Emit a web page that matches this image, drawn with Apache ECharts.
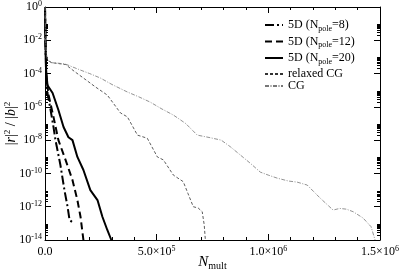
<!DOCTYPE html>
<html><head><meta charset="utf-8">
<script src="https://cdn.jsdelivr.net/npm/echarts@6/dist/echarts.min.js"></script>
<style>html,body{margin:0;padding:0;background:#fff}#c{width:399px;height:276px}</style>
</head><body><div id="c"></div>
<script>
// ---- data ----
const names = ['5D (N_pole=8)', '5D (N_pole=12)', '5D (N_pole=20)', 'relaxed CG', 'CG'];

const n8_x = [0, 2000, 5000, 11000, 25000, 38000, 47000, 69000, 87000, 101000, 110000, 118000, 127000];
const n8_y = [1, 1e-2, 6.3e-5, 6.8e-6, 6.5e-7, 6.2e-8, 1.0e-8, 3.2e-10, 1e-11, 1e-12, 1.6e-13, 1.4e-13, 1.05e-13];

const n12_x = [0, 2000, 6000, 16000, 38000, 60000, 92000, 123000, 145000, 159000, 172000];
const n12_y = [1, 1e-2, 6.3e-5, 5.1e-6, 2.5e-7, 1.0e-8, 6.5e-10, 4.0e-11, 2.5e-12, 2.5e-13, 1e-14];

const n20_x = [0, 2000, 5000, 11000, 34000, 60000, 83000, 105000, 123000, 145000, 172000, 203000, 235000, 257000, 279000, 297000];
const n20_y = [1, 1e-2, 1.6e-4, 2.0e-5, 6.8e-6, 6.5e-7, 6.2e-8, 1.5e-8, 1.0e-8, 9.8e-10, 1.6e-10, 1e-11, 2.5e-12, 2.5e-13, 4.0e-14, 1e-14];

const rcg_x = [0, 1500, 3000, 6000, 12000, 30000, 60000, 92000, 130000, 172000, 225000, 279000, 338000, 369000, 414000, 458000, 503000, 530000, 575000, 619000, 640000, 664000, 686000, 704000, 713000, 718000];
const rcg_y = [1, 1e-1, 1e-2, 1.6e-3, 6.3e-4, 4.5e-4, 4e-4, 3.5e-4, 1.4e-4, 5.4e-5, 1.6e-5, 5.1e-6, 4.3e-7, 2.5e-7, 2.0e-8, 1.3e-8, 9.8e-10, 6.5e-10, 7.9e-11, 3.2e-11, 6.3e-12, 1e-12, 8.3e-13, 5e-13, 7.9e-14, 1e-14];

const cg_x = [0, 1500, 3000, 6000, 12000, 30000, 60000, 92000, 150000, 200000, 248000, 300000, 369000, 420000, 472000, 520000, 575000, 630000, 682000, 740000, 789000, 830000, 874000, 920000, 964000, 1000000, 1040000, 1090000, 1129000, 1174000, 1232000, 1290000, 1320000, 1350000, 1380000, 1424000, 1460000, 1478000];
const cg_y = [1, 1e-1, 1e-2, 1.6e-3, 6.3e-4, 4.5e-4, 4.2e-4, 3.7e-4, 1.8e-4, 1e-4, 5.4e-5, 2.2e-5, 7.8e-6, 4.0e-6, 1.9e-6, 7.9e-7, 3.2e-7, 1.0e-7, 2.0e-8, 1.4e-8, 1.0e-8, 4.0e-9, 1.3e-9, 4.0e-10, 1.2e-10, 7.9e-11, 5.2e-11, 3.5e-11, 3.0e-11, 2.0e-11, 3.3e-12, 6.3e-13, 7.9e-13, 7.1e-13, 5.0e-13, 2.1e-13, 6.3e-14, 1e-14];

const xTicks = [0, 500000, 1000000, 1500000];
const xTickLabels = ['0.0', '5.0×10|5', '1.0×10|6', '1.5×10|6'];
const yTicks = [1, 1e-2, 1e-4, 1e-6, 1e-8, 1e-10, 1e-12, 1e-14];
const yTickLabels = ['10|0', '10|-2', '10|-4', '10|-6', '10|-8', '10|-10', '10|-12', '10|-14'];

// ---- build ----
const zip = (xs, ys) => xs.map((x, i) => [x, ys[i]]);
const FONT = 'Liberation Serif';
const yMinor = [];
for (let e = -14; e < 0; e += 2) for (let k = 2; k <= 9; k++) yMinor.push(k * Math.pow(10, e));

function supFmt(s) {
  const p = s.split('|');
  return '{b|' + p[0] + '}{s|' + p[1] + '}';
}
const labRich = {
  b: {fontFamily: FONT, fontSize: 12, color: '#000', lineHeight: 14},
  s: {fontFamily: FONT, fontSize: 8, color: '#000', lineHeight: 8, verticalAlign: 'top'}
};

const chart = echarts.init(document.getElementById('c'), null, {renderer: 'canvas'});

const baseY = {type: 'log', logBase: 10, min: 1e-14, max: 1, splitLine: {show: false}};
const baseX = {type: 'value', min: 0, max: 1500000, interval: 500000, splitLine: {show: false}};
const axisLine = {show: true, lineStyle: {color: '#000', width: 1}};

function mkSeries(name, xs, ys, type, width, color) {
  return {
    name: name, type: 'line', xAxisIndex: 0, yAxisIndex: 0,
    data: zip(xs, ys), showSymbol: false, symbol: 'none', clip: true,
    lineStyle: {color: color, width: width, type: type},
    itemStyle: {color: color}
  };
}

function legendFmt(name) {
  const m = name.match(/^5D \(N_pole=(\d+)\)$/);
  if (m) return '{a|5D (N}{s|pole}{a|=' + m[1] + ')}';
  return '{a|' + name + '}';
}
const legRich = {
  a: {fontFamily: FONT, fontSize: 12, color: '#000', lineHeight: 15},
  s: {fontFamily: FONT, fontSize: 8, color: '#000', lineHeight: 8, verticalAlign: 'bottom'}
};
const legCommon = {orient: 'vertical', left: 264, padding: 0, itemWidth: 18, itemHeight: 8,
  itemStyle: {opacity: 0, borderWidth: 0}, formatter: legendFmt, textStyle: {rich: legRich}, selectedMode: false};

const option = {
  animation: false,
  backgroundColor: '#fff',
  grid: {left: 45, right: 19, top: 7, bottom: 36, containLabel: false, outerBoundsMode: 'none'},
  legend: [
    Object.assign({}, legCommon, {data: names.slice(0, 3), top: 19, itemGap: 3}),
    Object.assign({}, legCommon, {data: names.slice(3), top: 68, itemGap: 0})
  ],
  xAxis: [
    Object.assign({}, baseX, {
      position: 'bottom',
      axisLine: axisLine,
      axisTick: {show: true, inside: true, length: 6, lineStyle: {color: '#000'}},
      minorTick: {show: true, splitNumber: 5, length: 3, lineStyle: {color: '#000'}},
      axisLabel: {show: true, margin: 5, alignMinLabel: 'center', alignMaxLabel: 'center', hideOverlap: false,
        formatter: function (v) {
          const i = xTicks.indexOf(v); if (i < 0) return '';
          const s = xTickLabels[i];
          return s.indexOf('|') < 0 ? '{b|' + s + '}' : supFmt(s);
        }, rich: labRich},
      name: '{n|N}{m|mult}', nameLocation: 'middle', nameGap: 13, nameMoveOverlap: false,
      nameTextStyle: {rich: {
        n: {fontFamily: FONT, fontSize: 15, fontStyle: 'italic', color: '#000', lineHeight: 18},
        m: {fontFamily: FONT, fontSize: 10, color: '#000', lineHeight: 10, verticalAlign: 'bottom'}
      }}
    }),
    Object.assign({}, baseX, {
      position: 'top',
      axisLine: axisLine,
      axisTick: {show: true, inside: true, length: 6, lineStyle: {color: '#000'}},
      minorTick: {show: true, splitNumber: 5, length: 3, lineStyle: {color: '#000'}},
      axisLabel: {show: false}
    })
  ],
  yAxis: [
    Object.assign({}, baseY, {
      position: 'left',
      axisLine: axisLine,
      axisTick: {show: true, inside: true, length: 6, customValues: yTicks, lineStyle: {color: '#000'}},
      axisLabel: {show: true, margin: 3, customValues: yTicks, formatter: function (v) {
        let best = 0, bd = 1e9;
        yTicks.forEach((t, i) => { const d = Math.abs(Math.log10(t) - Math.log10(v)); if (d < bd) { bd = d; best = i; } });
        return supFmt(yTickLabels[best]);
      }, rich: labRich},
      name: '{a||}{i|r}{a||}{p|2}{a| / |}{i|b}{a||}{p|2}', nameLocation: 'middle', nameGap: 26, nameRotate: 90,
      nameMoveOverlap: false,
      nameTextStyle: {rich: {
        a: {fontFamily: FONT, fontSize: 14, color: '#000', lineHeight: 16},
        i: {fontFamily: FONT, fontSize: 14, fontStyle: 'italic', color: '#000', lineHeight: 16},
        p: {fontFamily: FONT, fontSize: 9, color: '#000', lineHeight: 9, verticalAlign: 'top'}
      }}
    }),
    Object.assign({}, baseY, {
      position: 'left',
      axisLine: {show: false},
      axisTick: {show: true, inside: true, length: 3, customValues: yMinor, lineStyle: {color: '#000'}},
      axisLabel: {show: false}
    }),
    Object.assign({}, baseY, {
      position: 'right',
      axisLine: axisLine,
      axisTick: {show: true, inside: true, length: 6, customValues: yTicks, lineStyle: {color: '#000'}},
      axisLabel: {show: false}
    }),
    Object.assign({}, baseY, {
      position: 'right',
      axisLine: {show: false},
      axisTick: {show: true, inside: true, length: 3, customValues: yMinor, lineStyle: {color: '#000'}},
      axisLabel: {show: false}
    })
  ],
  series: [
    mkSeries(names[0], n8_x, n8_y, [9, 3, 2, 3], 2, '#000'),
    mkSeries(names[1], n12_x, n12_y, [7, 4], 2, '#000'),
    mkSeries(names[2], n20_x, n20_y, 'solid', 2, '#000'),
    mkSeries(names[3], rcg_x, rcg_y, [3, 2], 0.8, '#333'),
    mkSeries(names[4], cg_x, cg_y, [4, 1.5, 1, 1.5], 0.8, '#777')
  ]
};
chart.setOption(option);
</script></body></html>
